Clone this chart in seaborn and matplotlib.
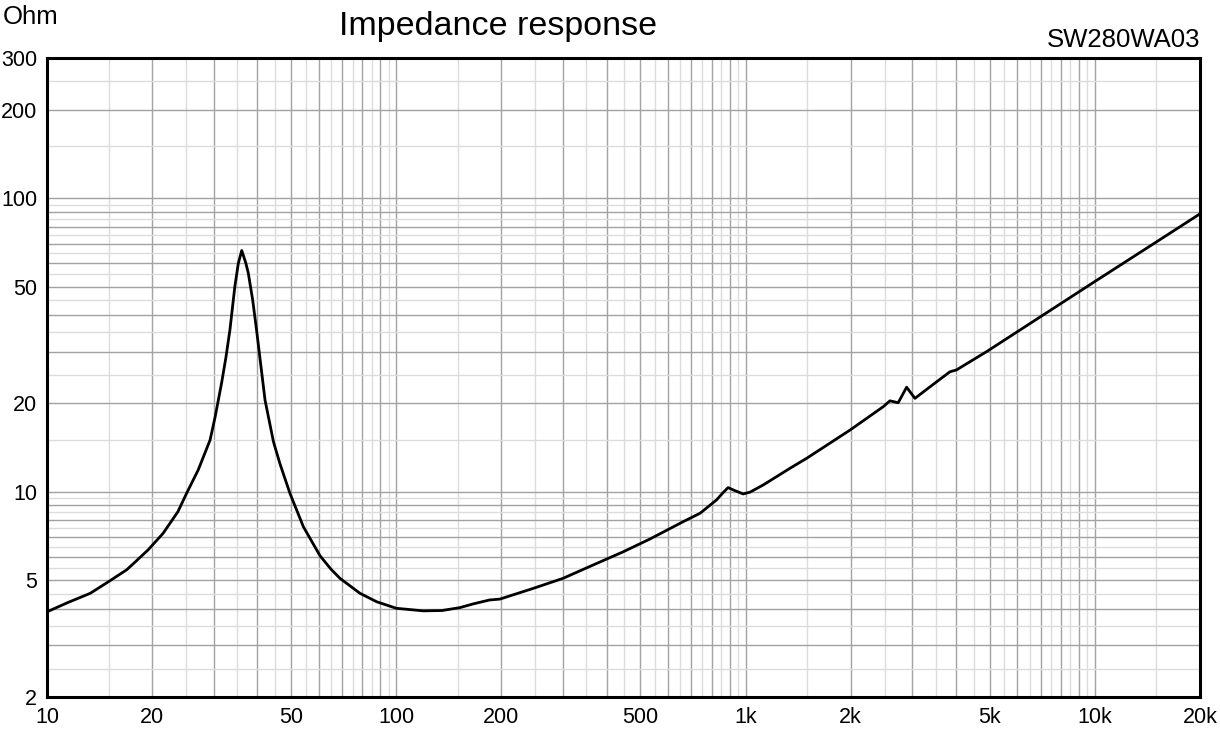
import numpy as np
import pandas as pd
import matplotlib
matplotlib.use("Agg")
import matplotlib.pyplot as plt
from matplotlib.ticker import FixedLocator, FuncFormatter, NullFormatter
import seaborn as sns

# ---- data ----
freq_hz = [10, 11.5, 13.3, 15, 16.9, 17.7, 19.5, 21.5, 23.7, 25.1, 27.1, 29.3, 30.3,
           31.6, 32.5, 33.4, 34.5, 35.3, 36.1, 37.1, 37.7, 38.8, 39.8, 42.1, 44.5,
           46.4, 49.6, 54.2, 60.5, 65.0, 69.0, 78.7, 87.9, 100, 119.5, 135, 152, 166,
           185, 198, 247, 300, 366, 447, 532, 663, 741, 826, 860, 891, 930, 984,
           1030, 1124, 1340, 1496, 1994, 2479, 2590, 2735, 2891, 3054, 3264, 3444,
           3843, 4018, 4385, 4898, 7000, 10000, 15000, 20000]
impedance_ohm = [3.90, 4.20, 4.51, 4.94, 5.42, 5.70, 6.35, 7.22, 8.55, 9.88, 11.87, 15.0, 18.0,
                 23.4, 28.5, 35.6, 50.0, 60.0, 66.3, 60.0, 55.5, 45.0, 35.6, 20.5, 14.8,
                 12.5, 9.88, 7.60, 6.05, 5.45, 5.07, 4.51, 4.22, 4.01, 3.93, 3.94, 4.03, 4.15,
                 4.28, 4.31, 4.69, 5.07, 5.63, 6.25, 6.9, 7.91, 8.45, 9.38, 9.9, 10.33, 10.1, 9.83,
                 9.97, 10.55, 12.02, 13.0, 16.24, 19.49, 20.4, 20.1, 22.7, 20.8,
                 22.1, 23.2, 25.6, 26.0, 27.7, 30.0, 39.5, 52.0, 70.9, 88.4]

x_tick_values = [10, 20, 50, 100, 200, 500, 1000, 2000, 5000, 10000, 20000]
x_tick_labels = ["10", "20", "50", "100", "200", "500", "1k", "2k", "5k", "10k", "20k"]
y_tick_values = [2, 5, 10, 20, 50, 100, 200, 300]
y_tick_labels = ["2", "5", "10", "20", "50", "100", "200", "300"]

title_text = "Impedance response"
unit_text = "Ohm"
model_text = "SW280WA03"

# ---- figure ----
sns.set_theme(style="white")
plt.rcParams['font.family'] = ['Liberation Sans', 'DejaVu Sans']

fig = plt.figure(figsize=(12.2, 7.29), dpi=100)
ax = fig.add_axes([47/1220, 1-697/729, (1200-47)/1220, (697-58)/729])

df = pd.DataFrame({"freq": freq_hz, "z": impedance_ohm})
sns.lineplot(data=df, x="freq", y="z", ax=ax, color="black", linewidth=2.0,
             sort=False, zorder=5)

ax.set_xscale("log")
ax.set_yscale("log")
ax.set_xlim(10, 20000)
ax.set_ylim(2, 300)

def grid_vals(lo, hi, offset):
    vals = []
    for k in range(-1, 6):
        for d in range(1, 10):
            v = (d + offset) * 10 ** k
            if lo - 1e-9 <= v <= hi + 1e-9:
                vals.append(v)
    return vals

x_major = grid_vals(10, 20000, 0)
x_minor = grid_vals(10, 20000, 0.5)
y_major = grid_vals(2, 300, 0)
y_minor = grid_vals(2, 300, 0.5)

ax.xaxis.set_major_locator(FixedLocator(x_major))
ax.xaxis.set_minor_locator(FixedLocator(x_minor))
ax.yaxis.set_major_locator(FixedLocator(y_major))
ax.yaxis.set_minor_locator(FixedLocator(y_minor))

xlab = dict(zip(x_tick_values, x_tick_labels))
ylab = dict(zip(y_tick_values, y_tick_labels))

def fmt_x(v, pos):
    for k, s in xlab.items():
        if abs(v - k) / k < 1e-6:
            return s
    return ""

def fmt_y(v, pos):
    for k, s in ylab.items():
        if abs(v - k) / k < 1e-6:
            return s
    return ""

ax.xaxis.set_major_formatter(FuncFormatter(fmt_x))
ax.yaxis.set_major_formatter(FuncFormatter(fmt_y))
ax.xaxis.set_minor_formatter(NullFormatter())
ax.yaxis.set_minor_formatter(NullFormatter())

ax.grid(which="major", color="#a2a2a2", linewidth=1.0, zorder=1)
ax.grid(which="minor", color="#dcdcdc", linewidth=1.0, zorder=0)
ax.set_axisbelow(True)

ax.tick_params(which="both", length=0)
ax.tick_params(axis="x", pad=7, labelsize=15.5, colors="black")
ax.tick_params(axis="y", pad=7, labelsize=15.5, colors="black")
ax.set_xlabel("")
ax.set_ylabel("")

for s in ax.spines.values():
    s.set_visible(True)
    s.set_color("black")
    s.set_linewidth(2.2)

fig.text(498/1220, 1-27/729, title_text, ha="center", va="center", fontsize=24.5, color="black")
fig.text(3/1220, 1-17/729, unit_text, ha="left", va="center", fontsize=18.5, color="black")
fig.text(1200/1220, 1-40/729, model_text, ha="right", va="center", fontsize=18.5, color="black")

fig.savefig("out.png", dpi=100, facecolor="white")
